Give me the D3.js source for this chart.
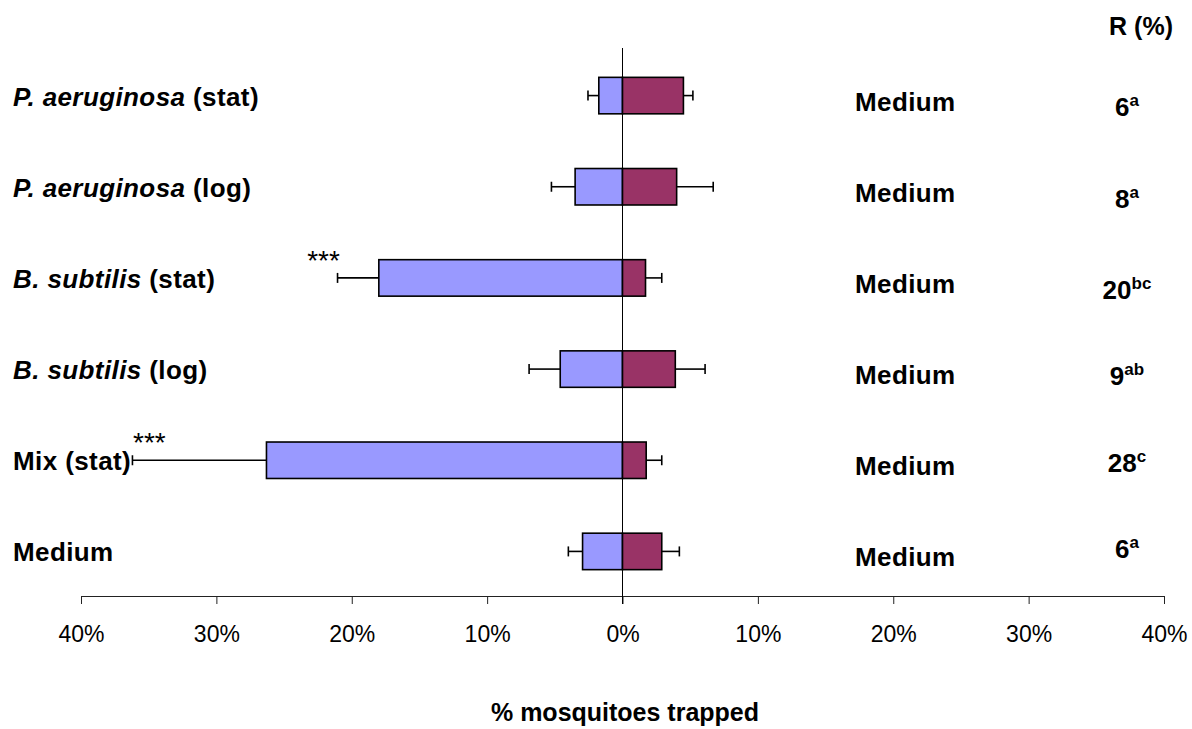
<!DOCTYPE html>
<html>
<head>
<meta charset="utf-8">
<script src="https://cdn.jsdelivr.net/npm/d3@7"></script>
<style>
  body { margin: 0; background: #fff; }
  text { font-family: Arial, "Liberation Sans", sans-serif; }
</style>
</head>
<body>
<script>
// rows, top to bottom
const labelItalic = ["P. aeruginosa", "P. aeruginosa", "B. subtilis", "B. subtilis", "", ""];
const labelPlain = ["(stat)", "(log)", "(stat)", "(log)", "Mix (stat)", "Medium"];
const controlLabel = ["Medium", "Medium", "Medium", "Medium", "Medium", "Medium"];

// % trapped, treatment side (left) and control side (right)
const leftMean = [1.75, 3.5, 18.0, 4.6, 26.3, 2.95];
const leftErr = [0.8, 1.75, 3.05, 2.3, 9.9, 1.05];
const rightMean = [4.5, 4.0, 1.7, 3.9, 1.75, 2.9];
const rightErr = [0.7, 2.7, 1.2, 2.2, 1.15, 1.3];

const signif = ["", "", "***", "", "***", ""];
const rValue = ["6", "8", "20", "9", "28", "6"];
const rLetter = ["a", "a", "bc", "ab", "c", "a"];

const xTicks = [-40, -30, -20, -10, 0, 10, 20, 30, 40];

// layout tweaks
const rDy = [20, 21, 21, 16, 12, 7];
const starDx = [0, 0, -14, 0, 17, 0];

const width = 1192;
const height = 729;

const rows = d3.range(labelPlain.length);

const svg = d3.select("body")
    .append("svg")
    .attr("width", width)
    .attr("height", height);

const xScale = d3.scaleLinear()
    .domain([-40, 40])
    .range([81, 1164]);

const yScale = d3.scaleBand()
    .domain(rows)
    .range([50, 597])
    .paddingInner(0.6)
    .paddingOuter(0.3);

const bh = yScale.bandwidth();
const cy = (i) => yScale(i) + bh / 2;

// x axis
const xAxis = svg.append("g")
    .attr("transform", "translate(0,596)")
    .call(d3.axisBottom(xScale)
        .tickValues(xTicks)
        .tickSize(8)
        .tickSizeOuter(0)
        .tickPadding(22)
        .tickFormat((d) => Math.abs(d) + "%"));
xAxis.select(".domain").attr("stroke", "#222");
xAxis.selectAll(".tick line").attr("stroke", "#222");
xAxis.selectAll(".tick text")
    .attr("font-size", "23px")
    .attr("fill", "#000")
    .attr("font-family", "Arial, 'Liberation Sans', sans-serif");

// error bars
function errBar(sel, from, to) {
    const g = sel.append("g").attr("stroke", "#000").attr("stroke-width", 1.6);
    g.selectAll("line.stem")
        .data(rows)
        .join("line")
        .attr("x1", (i) => xScale(from(i)))
        .attr("x2", (i) => xScale(to(i)))
        .attr("y1", cy)
        .attr("y2", cy);
    g.selectAll("line.cap")
        .data(rows)
        .join("line")
        .attr("class", "cap")
        .attr("x1", (i) => xScale(to(i)))
        .attr("x2", (i) => xScale(to(i)))
        .attr("y1", (i) => cy(i) - 5)
        .attr("y2", (i) => cy(i) + 5);
}
errBar(svg, (i) => -leftMean[i], (i) => -(leftMean[i] + leftErr[i]));
errBar(svg, (i) => rightMean[i], (i) => rightMean[i] + rightErr[i]);

// bars
svg.selectAll("rect.left")
    .data(rows)
    .join("rect")
    .attr("x", (i) => xScale(-leftMean[i]))
    .attr("y", (i) => yScale(i))
    .attr("width", (i) => xScale(0) - xScale(-leftMean[i]))
    .attr("height", bh)
    .attr("fill", "#9999FF")
    .attr("stroke", "#000")
    .attr("stroke-width", 1.6);

svg.selectAll("rect.right")
    .data(rows)
    .join("rect")
    .attr("x", xScale(0))
    .attr("y", (i) => yScale(i))
    .attr("width", (i) => xScale(rightMean[i]) - xScale(0))
    .attr("height", bh)
    .attr("fill", "#993366")
    .attr("stroke", "#000")
    .attr("stroke-width", 1.6);

// zero line
svg.append("line")
    .attr("x1", xScale(0))
    .attr("x2", xScale(0))
    .attr("y1", 48)
    .attr("y2", 604)
    .attr("stroke", "#000")
    .attr("stroke-width", 1);

// significance stars
svg.selectAll("text.star")
    .data(rows.filter((i) => signif[i]))
    .join("text")
    .attr("x", (i) => xScale(-(leftMean[i] + leftErr[i])) + starDx[i])
    .attr("y", (i) => cy(i) - 8)
    .attr("text-anchor", "middle")
    .attr("font-size", "28px")
    .text((i) => signif[i]);

// row labels
const lab = svg.selectAll("text.lab")
    .data(rows)
    .join("text")
    .attr("x", 13)
    .attr("y", (i) => cy(i) + 10)
    .attr("font-size", "26px")
    .attr("letter-spacing", "0.4px")
    .attr("font-weight", "bold");
lab.append("tspan")
    .attr("font-style", "italic")
    .text((i) => labelItalic[i] ? labelItalic[i] + " " : "");
lab.append("tspan")
    .text((i) => labelPlain[i]);

// control labels
svg.selectAll("text.ctrl")
    .data(rows)
    .join("text")
    .attr("x", 855)
    .attr("y", (i) => cy(i) + 15)
    .attr("font-size", "26px")
    .attr("letter-spacing", "0.4px")
    .attr("font-weight", "bold")
    .text((i) => controlLabel[i]);

// R (%) column
svg.append("text")
    .attr("x", 1173)
    .attr("y", 35)
    .attr("text-anchor", "end")
    .attr("font-size", "25px")
    .attr("font-weight", "bold")
    .text("R (%)");

const rt = svg.selectAll("text.r")
    .data(rows)
    .join("text")
    .attr("x", 1127)
    .attr("y", (i) => cy(i) + rDy[i])
    .attr("text-anchor", "middle")
    .attr("font-size", "26px")
    .attr("font-weight", "bold");
rt.append("tspan").text((i) => rValue[i]);
rt.append("tspan")
    .attr("font-size", "17px")
    .attr("dy", -10)
    .text((i) => rLetter[i]);

// axis title
svg.append("text")
    .attr("x", 625)
    .attr("y", 721)
    .attr("text-anchor", "middle")
    .attr("font-size", "25px")
    .attr("font-weight", "bold")
    .text("% mosquitoes trapped");
</script>
</body>
</html>
